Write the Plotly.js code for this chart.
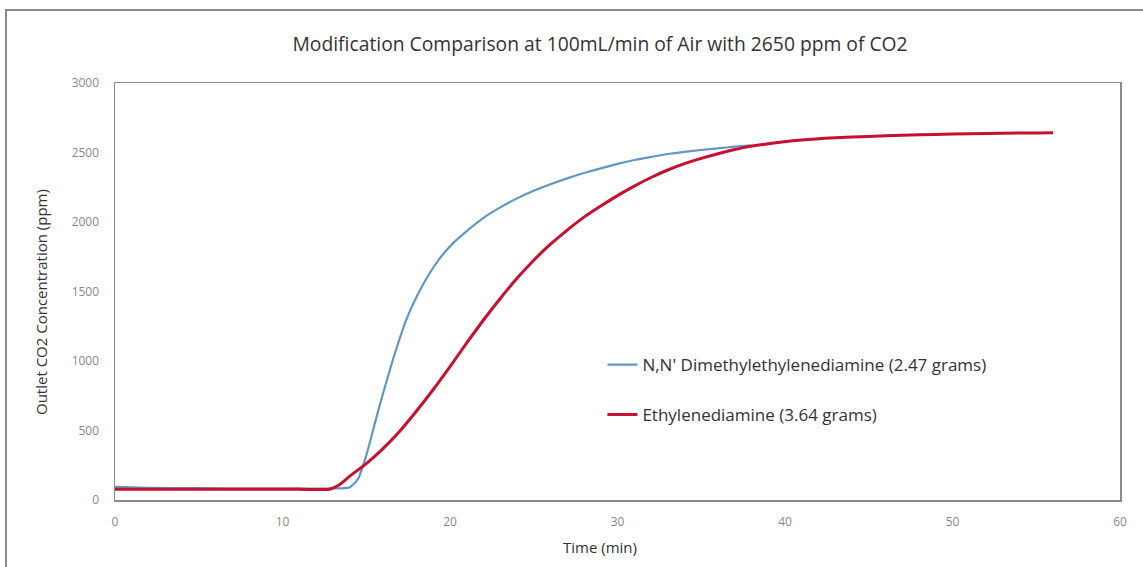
<!DOCTYPE html>
<html>
<head>
<meta charset="utf-8">
<script src="https://cdn.plot.ly/plotly-3.0.1.min.js"></script>
<style>
  html, body { margin: 0; padding: 0; background: #fff; }
  #chart { width: 1143px; height: 567px; }
  #frame { position: absolute; left: 5px; top: 9px; width: 1200px; height: 600px;
           border-left: 2px solid #8a8a8a; border-top: 2px solid #8a8a8a; pointer-events: none; }
</style>
</head>
<body>
<div id="chart"></div>
<div id="frame"></div>
<script>
// Time (min) and outlet CO2 (ppm)
const dmedaTime = [0, 2, 5, 8, 11, 13, 14, 14.5, 15, 15.4, 15.8, 16.3, 16.8, 17.4, 18, 18.7, 19.4, 20.2, 21, 22, 23, 24, 25, 26, 27, 28, 29, 30, 31, 32, 33, 34, 35, 36, 37, 38];
const dmedaCO2  = [95, 88, 85, 84, 83, 83, 90, 150, 320, 500, 680, 890, 1090, 1300, 1460, 1615, 1740, 1850, 1935, 2030, 2105, 2170, 2225, 2272, 2314, 2352, 2386, 2418, 2446, 2468, 2489, 2505, 2518, 2530, 2542, 2552];

const edaTime = [0, 2, 5, 8, 11, 12.8, 13.4, 14, 15, 16, 17, 18, 19, 20, 21, 22, 23, 24, 25, 26, 27, 28, 29, 30, 31, 32, 33, 34, 35, 37, 39, 41, 43, 45, 47, 49, 51, 53, 55, 56];
const edaCO2  = [78, 78, 77, 77, 77, 78, 110, 170, 262, 370, 495, 640, 795, 960, 1130, 1295, 1450, 1595, 1725, 1840, 1942, 2035, 2115, 2190, 2258, 2320, 2374, 2420, 2458, 2522, 2563, 2590, 2606, 2616, 2624, 2630, 2635, 2639, 2641, 2642];

const seriesNames = ["N,N' Dimethylethylenediamine (2.47 grams)", "Ethylenediamine (3.64 grams)"];
const xTicks = [0, 10, 20, 30, 40, 50, 60];
const yTicks = [0, 500, 1000, 1500, 2000, 2500, 3000];

const FONT = "Open Sans, Noto Sans, sans-serif";

const traces = [
  {
    x: dmedaTime, y: dmedaCO2, type: 'scatter', mode: 'lines', name: seriesNames[0],
    line: { color: '#6297c5', width: 2.2, shape: 'spline', smoothing: 0.6 },
    legend: 'legend'
  },
  {
    x: edaTime, y: edaCO2, type: 'scatter', mode: 'lines', name: seriesNames[1],
    line: { color: '#c8102e', width: 3, shape: 'spline', smoothing: 0.6 },
    legend: 'legend2'
  }
];

const layout = {
  width: 1143, height: 567,
  paper_bgcolor: 'rgba(0,0,0,0)', plot_bgcolor: '#fff',
  margin: { l: 115, r: 23, t: 83, b: 67 },
  title: {
    text: 'Modification Comparison at 100mL/min of Air with 2650 ppm of CO2',
    font: { family: FONT, size: 19.3, color: '#333' },
    x: 0.525, xanchor: 'center', y: 0.922, yanchor: 'middle'
  },
  xaxis: {
    range: [0, 60], tickvals: xTicks, ticktext: xTicks.map(String),
    showgrid: false, zeroline: false, showline: true, mirror: true,
    linecolor: '#8a8a8a', linewidth: 1.5,
    ticks: 'outside', ticklen: 10, tickcolor: 'rgba(0,0,0,0)',
    tickfont: { family: FONT, size: 12, color: '#888' }
  },
  yaxis: {
    range: [0, 3000], tickvals: yTicks, ticktext: yTicks.map(String),
    showgrid: false, zeroline: false, showline: true, mirror: true,
    linecolor: '#8a8a8a', linewidth: 1.5,
    ticks: 'outside', ticklen: 12, tickcolor: 'rgba(0,0,0,0)',
    tickfont: { family: FONT, size: 12, color: '#888' }
  },
  annotations: [
    { text: 'Time (min)', xref: 'paper', yref: 'paper', x: (600 - 115) / 1005, y: -(547 - 500) / 417,
      xanchor: 'center', yanchor: 'middle', showarrow: false,
      font: { family: FONT, size: 15, color: '#333' } },
    { text: 'Outlet CO2 Concentration (ppm)', xref: 'paper', yref: 'paper', x: -(115 - 41) / 1005, y: (500 - 302) / 417,
      xanchor: 'center', yanchor: 'middle', showarrow: false, textangle: -90,
      font: { family: FONT, size: 15, color: '#333' } }
  ],
  legend: {
    x: 0.485, y: (500 - 365) / 417, xanchor: 'left', yanchor: 'middle',
    bgcolor: 'rgba(0,0,0,0)', font: { family: FONT, size: 17, color: '#333' },
    itemwidth: 30
  },
  legend2: {
    x: 0.485, y: (500 - 415) / 417, xanchor: 'left', yanchor: 'middle',
    bgcolor: 'rgba(0,0,0,0)', font: { family: FONT, size: 17, color: '#333' },
    itemwidth: 30
  },
  showlegend: true
};

Plotly.newPlot('chart', traces, layout, { displayModeBar: false, staticPlot: true });
</script>
</body>
</html>
